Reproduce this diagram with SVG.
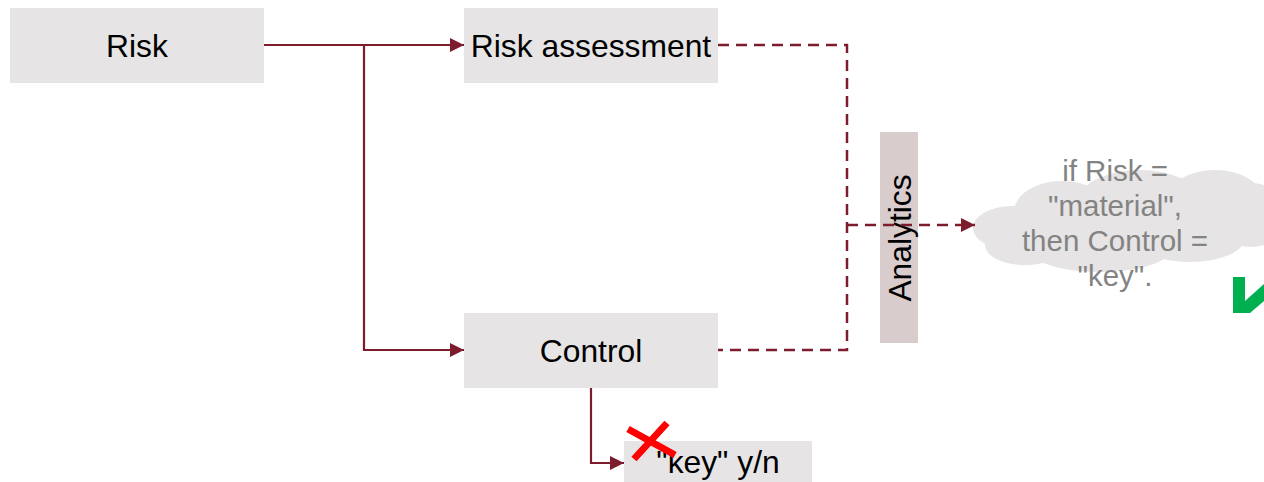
<svg xmlns="http://www.w3.org/2000/svg" width="1264" height="482" viewBox="0 0 1264 482">
<style>
.box{fill:#e6e4e4}
.lbl{font-family:"Liberation Sans",Arial,sans-serif;font-size:31.8px;fill:#000;text-anchor:middle}
.cl{font-family:"Liberation Sans",Arial,sans-serif;font-size:29.5px;fill:#838383;text-anchor:middle}
.ln{fill:none;stroke:#7d1c2d;stroke-width:2.2}
.dash{fill:none;stroke:#7d1c2d;stroke-width:2.5;stroke-dasharray:11 7}
</style>
<defs>
<marker id="ah" viewBox="0 0 14 14" refX="14" refY="7" markerWidth="14" markerHeight="14" markerUnits="userSpaceOnUse" orient="auto">
<path d="M0,0 L14,7 L0,14 Z" fill="#7d1c2d"/>
</marker>
</defs>
<rect width="1264" height="482" fill="#fff"/>
<g id="risk"><rect class="box" x="10" y="8" width="254" height="75"/><text class="lbl" x="137" y="57">Risk</text></g>
<g id="risk-assessment"><rect class="box" x="464" y="8" width="254" height="75"/><text class="lbl" x="591" y="57">Risk assessment</text></g>
<g id="control"><rect class="box" x="464" y="313" width="254" height="75"/><text class="lbl" x="591" y="362">Control</text></g>
<g id="key-yn"><rect class="box" x="624" y="441" width="188" height="45"/><text class="lbl" x="718" y="473">"key" y/n</text></g>
<g id="cloud">
<g fill="#e6e4e4">
<ellipse cx="1012" cy="228" rx="39" ry="22"/>
<ellipse cx="1062" cy="212" rx="48" ry="31"/>
<ellipse cx="1140" cy="202" rx="62" ry="32"/>
<ellipse cx="1215" cy="200" rx="48" ry="30"/>
<ellipse cx="1250" cy="215" rx="40" ry="32"/>
<ellipse cx="1025" cy="245" rx="40" ry="20"/>
<ellipse cx="1100" cy="248" rx="72" ry="24"/>
<ellipse cx="1190" cy="238" rx="55" ry="24"/>
</g>
<text class="cl" x="1115" y="181">if Risk =</text>
<text class="cl" x="1115" y="216">"material",</text>
<text class="cl" x="1115" y="251">then Control =</text>
<text class="cl" x="1115" y="286">"key".</text>
</g>
<g id="analytics"><rect x="880" y="132" width="38" height="211" fill="#d9cccc"/><text class="lbl" transform="translate(911,238) rotate(-90)" x="0" y="0">Analytics</text></g>
<g id="connectors">
<path class="ln" d="M264,45 H464" marker-end="url(#ah)"/>
<path class="ln" d="M364,45 V350 H464" marker-end="url(#ah)"/>
<path class="ln" d="M591,388 V463 H624" marker-end="url(#ah)"/>
<path class="dash" d="M718,45 H847 V350 H718"/>
<path class="dash" d="M847,225 H975" marker-end="url(#ah)"/>
</g>
<g id="cross"><path d="M628,429 L675,455 M667,423 L634,459" stroke="#ff0000" stroke-width="7" fill="none"/></g>
<g id="check"><polygon points="1233,277 1245,277 1245,301 1264,284 1264,301 1250,313 1233,313" fill="#00b050"/></g>
</svg>
